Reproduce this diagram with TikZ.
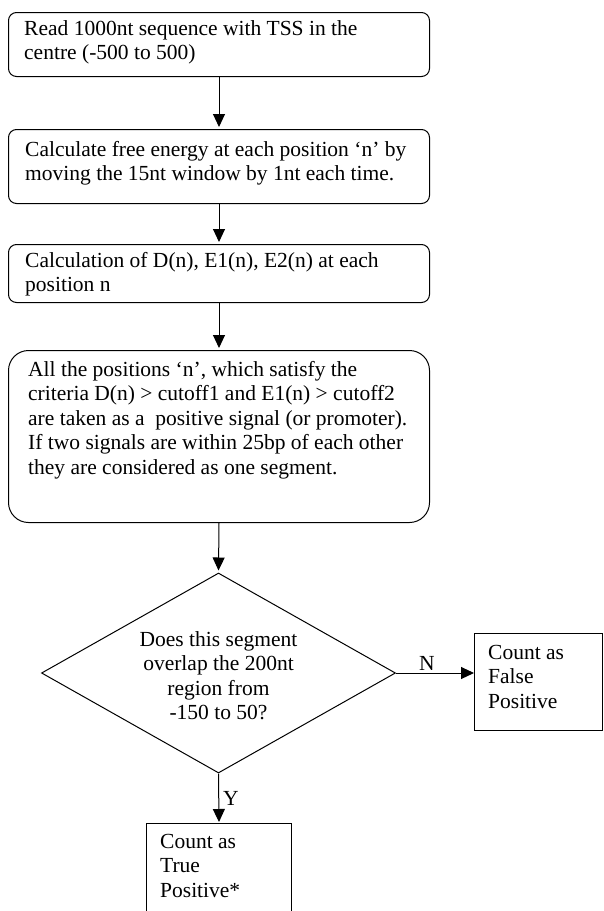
\documentclass[tikz,border=0pt]{standalone}
\usepackage{fontspec}
\setmainfont{Liberation Serif}
\usetikzlibrary{shapes.geometric,arrows.meta}
\begin{document}
\begin{tikzpicture}[x=1pt,y=-1pt,
  rbox/.style={draw, line width=1pt, rounded corners=8pt, anchor=north west, inner sep=0pt},
  sbox/.style={draw, line width=1pt, anchor=north west, inner sep=0pt},
  txt/.style={anchor=base west, inner sep=0pt, font=\fontsize{21.5}{24.5}\selectfont},
  lbl/.style={inner sep=0pt, font=\fontsize{21.5}{24.5}\selectfont},
  arr/.style={line width=1pt, -{Triangle[length=13pt,width=12pt]}, shorten >=2pt}]
\useasboundingbox (0,0) rectangle (603,911);
\clip (0,0) rectangle (603,911);
% boxes
\node[rbox, minimum width=421pt, minimum height=64pt] (b1) at (8,12) {};
\node[rbox, minimum width=421pt, minimum height=74pt] (b2) at (8,129) {};
\node[rbox, minimum width=421pt, minimum height=58pt] (b3) at (8,244) {};
\node[rbox, rounded corners=20pt, minimum width=421pt, minimum height=172pt] (b4) at (8,350) {};
\node[draw, line width=1pt, diamond, inner sep=0pt, minimum width=354pt, minimum height=200pt] (d) at (218.5,673) {};
\node[sbox, minimum width=128pt, minimum height=97pt] (fb) at (474,633) {};
\node[sbox, minimum width=145pt, minimum height=120pt] (tb) at (146,823) {};
% texts
\node[txt] (t1) at (24,35) {\parbox[t]{420pt}{Read 1000nt sequence with TSS in the\\centre (-500 to 500)}};
\node[txt] (t2) at (25,156) {\parbox[t]{420pt}{Calculate free energy at each position ‘n’ by\\moving the 15nt window by 1nt each time.}};
\node[txt] (t3) at (25,267) {\parbox[t]{420pt}{Calculation of D(n), E1(n), E2(n) at each\\position n}};
\node[txt] (t4) at (28,376) {\parbox[t]{420pt}{All the positions ‘n’, which satisfy the\\criteria D(n) > cutoff1 and E1(n) > cutoff2\\are taken as a\ \ positive signal (or promoter).\\If two signals are within 25bp of each other\\they are considered as one segment.}};
\node[lbl, anchor=base] (td) at (218.5,646) {\parbox[t]{240pt}{\centering Does this segment\\overlap the 200nt\\region from\\ -150 to 50?}};
\node[txt] (tf) at (488,659) {\parbox[t]{120pt}{Count as\\False\\Positive}};
\node[txt] (tt) at (160,848) {\parbox[t]{130pt}{Count as\\True\\Positive*}};
% connectors
\draw[arr] (b1.south) -- (b2.north);
\draw[arr] (b2.south) -- (b3.north);
\draw[arr] (b3.south) -- (b4.north);
\draw[arr] (b4.south) -- (d.north);
\draw[arr, shorten >=0pt] (d.east) -- (d.east -| fb.west);
\draw[arr, shorten >=1pt] (d.south) -- (tb.north);
\node[lbl, anchor=base] (nl) at (427,670) {N};
\node[lbl, anchor=base west] (yl) at (223,805) {Y};
\end{tikzpicture}
\end{document}
